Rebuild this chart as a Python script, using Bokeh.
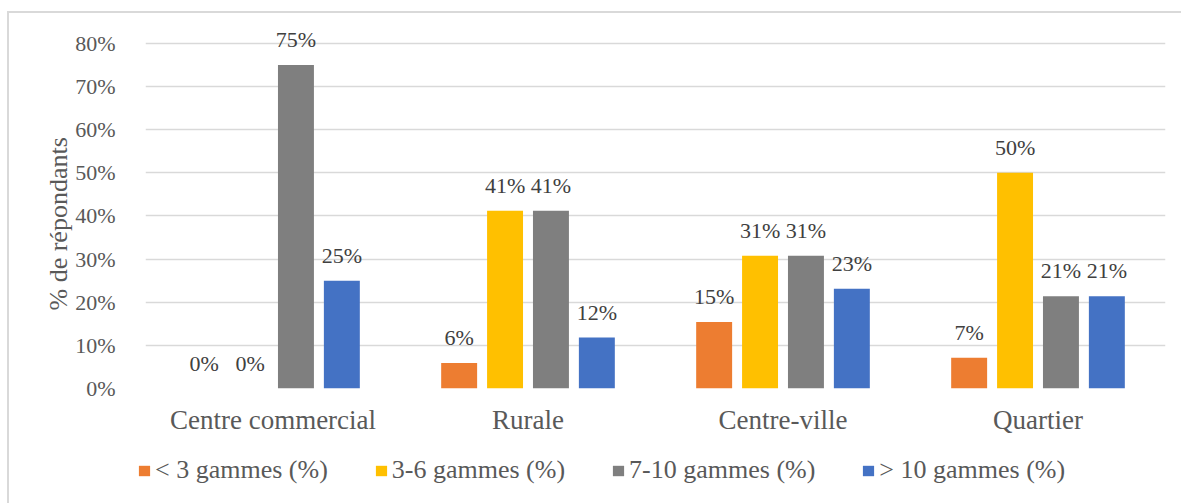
from bokeh.plotting import figure
from bokeh.layouts import column, row
from bokeh.models import ColumnDataSource, Legend, LegendItem, FixedTicker, LabelSet, CustomJSTickFormatter, Title
from bokeh.transform import dodge
from bokeh.core.properties import value
from bokeh.embed import file_html
from bokeh.resources import INLINE

categories = ["Centre commercial", "Rurale", "Centre-ville", "Quartier"]
series_names = ["< 3 gammes (%)", "3-6 gammes (%)", "7-10 gammes (%)", "> 10 gammes (%)"]
lt3 = [0.0, 5.9, 15.4, 7.1]
s3_6 = [0.0, 41.2, 30.8, 50.0]
s7_10 = [75.0, 41.2, 30.8, 21.4]
gt10 = [25.0, 11.8, 23.1, 21.4]
y_ticks = [0, 10, 20, 30, 40, 50, 60, 70, 80]
colors = ["#ED7D31", "#FFC000", "#7F7F7F", "#4472C4"]

FONT = "Liberation Serif"
W = 1172
H1, H2 = 432, 58

p = figure(x_range=categories, y_range=(0, 86), width=W, height=H1,
           output_backend="svg", toolbar_location=None,
           min_border_left=136, min_border_right=16, min_border_top=4,
           min_border_bottom=57)
p.outline_line_color = None
p.background_fill_color = "white"
p.border_fill_color = "white"

series = [lt3, s3_6, s7_10, gt10]
offsets = [-0.27, -0.09, 0.09, 0.27]
renderers = []
for vals, off, col in zip(series, offsets, colors):
    src = ColumnDataSource(dict(cat=categories, v=vals,
                                lab=[f"{round(v)}%" for v in vals]))
    r = p.vbar(x=dodge("cat", off, range=p.x_range), top="v", width=0.141,
               source=src, fill_color=col, line_color=None)
    renderers.append(r)
    ls = LabelSet(x=dodge("cat", off, range=p.x_range), y="v", text="lab",
                  source=src, text_align="center", text_baseline="bottom",
                  y_offset=13, text_font=value(FONT), text_font_size="22px",
                  text_color="#404040")
    p.add_layout(ls)

p.yaxis.ticker = FixedTicker(ticks=y_ticks)
p.yaxis.formatter = CustomJSTickFormatter(code="return tick + '%';")
p.ygrid.grid_line_color = "#d9d9d9"
p.ygrid.grid_line_width = 1.5
p.xgrid.grid_line_color = None

for ax in (p.xaxis, p.yaxis):
    ax.axis_line_color = None
    ax.major_tick_line_color = None
    ax.minor_tick_line_color = None
    ax.major_label_text_font = FONT
    ax.major_label_text_color = "#595959"
p.yaxis.major_label_text_font_size = "22px"
p.xaxis.major_label_text_font_size = "27px"
p.yaxis.major_label_standoff = 24
p.xaxis.major_label_standoff = 10

# y-axis title, placed over the 0-80 % band
ytitle = Title(text="% de répondants", align="left", offset=78, standoff=0,
               text_font=FONT, text_font_size="26px", text_font_style="normal",
               text_color="#595959")
p.add_layout(ytitle, "left")

# legend strip: a second figure whose frame covers the whole strip
p2 = figure(x_range=(0, 1), y_range=(0, 1), width=W, height=H2,
            output_backend="svg", toolbar_location=None,
            x_axis_location=None, y_axis_location=None,
            min_border=0)
p2.outline_line_color = None
p2.xgrid.grid_line_color = None
p2.ygrid.grid_line_color = None
leg_renderers = []
for col in colors:
    leg_renderers.append(p2.vbar(x=[5], top=[5], bottom=[4], width=0.1,
                                 fill_color=col, line_color=None))
legend = Legend(items=[LegendItem(label=n, renderers=[r]) for n, r in zip(series_names, leg_renderers)],
                orientation="horizontal", location=(128, 18),
                label_text_font=FONT, label_text_font_size="26px",
                label_text_color="#595959", glyph_width=14, glyph_height=13,
                label_standoff=4, spacing=46, border_line_color=None,
                background_fill_alpha=0, padding=0, margin=0)
p2.add_layout(legend, "center")

layout = column(p, row(p2), spacing=0,
                styles={"border-left": "2px solid #d9d9d9",
                        "border-top": "2px solid #d9d9d9",
                        "margin-top": "11px", "margin-left": "7px"})

open("out.html", "w").write(file_html(layout, INLINE))
